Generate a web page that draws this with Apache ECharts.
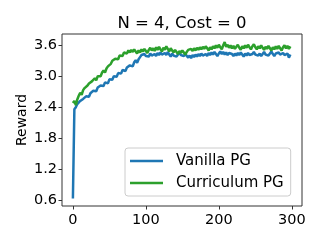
<!DOCTYPE html>
<html>
<head>
<meta charset="utf-8">
<script src="https://cdn.jsdelivr.net/npm/echarts@6/dist/echarts.min.js"></script>
<style>
html,body{margin:0;padding:0;background:#fff;}
#chart{width:324px;height:243px;}
</style>
</head>
<body>
<div id="chart"></div>
<script>
const title = "N = 4, Cost = 0";
const seriesNames = ["Vanilla PG", "Curriculum PG"];
const stepSize = 2;
const vanilla = [
0.63,2.36,2.40,2.46,2.43,2.52,2.50,2.56,2.53,2.61,
2.64,2.60,2.67,2.65,2.72,2.74,2.71,2.78,2.76,2.82,
2.85,2.81,2.88,2.90,2.86,2.94,2.97,2.93,3.00,3.03,
2.99,3.06,3.09,3.05,3.12,3.15,3.10,3.17,3.14,3.21,
3.24,3.19,3.27,3.31,3.26,3.33,3.37,3.41,3.38,3.43,
3.39,3.42,3.38,3.44,3.40,3.37,3.43,3.39,3.45,3.41,
3.46,3.42,3.39,3.45,3.41,3.47,3.42,3.38,3.44,3.40,
3.43,3.38,3.42,3.46,3.41,3.44,3.39,3.43,3.40,3.36,
3.40,3.35,3.41,3.37,3.42,3.38,3.43,3.39,3.44,3.40,
3.37,3.43,3.39,3.45,3.41,3.46,3.42,3.47,3.43,3.39,
3.44,3.48,3.43,3.47,3.42,3.46,3.41,3.45,3.48,3.43,
3.39,3.44,3.40,3.45,3.41,3.46,3.42,3.38,3.44,3.40,
3.45,3.41,3.38,3.43,3.47,3.42,3.45,3.40,3.44,3.39,
3.43,3.47,3.42,3.45,3.40,3.44,3.48,3.43,3.39,3.44,
3.41,3.46,3.42,3.40,3.45,3.41,3.38,3.44,3.36,3.42
];
const curriculum = [
2.48,2.52,2.44,2.55,2.62,2.68,2.64,2.73,2.77,2.74,
2.82,2.86,2.83,2.90,2.93,2.96,2.92,3.00,3.03,3.00,
3.07,3.11,3.07,3.15,3.19,3.16,3.24,3.30,3.27,3.34,
3.37,3.33,3.40,3.43,3.39,3.46,3.49,3.44,3.50,3.46,
3.51,3.47,3.52,3.48,3.44,3.50,3.46,3.52,3.48,3.53,
3.49,3.45,3.51,3.55,3.50,3.54,3.49,3.56,3.51,3.57,
3.52,3.48,3.55,3.51,3.58,3.53,3.48,3.54,3.50,3.46,
3.51,3.47,3.43,3.49,3.45,3.50,3.46,3.42,3.47,3.51,
3.48,3.53,3.49,3.54,3.50,3.55,3.51,3.56,3.52,3.57,
3.53,3.58,3.54,3.50,3.56,3.52,3.58,3.54,3.60,3.55,
3.61,3.56,3.52,3.60,3.66,3.57,3.61,3.55,3.60,3.54,
3.59,3.53,3.57,3.61,3.55,3.51,3.58,3.54,3.60,3.55,
3.61,3.56,3.52,3.58,3.62,3.56,3.52,3.58,3.54,3.60,
3.55,3.51,3.57,3.53,3.59,3.54,3.50,3.56,3.52,3.58,
3.53,3.59,3.54,3.50,3.56,3.60,3.54,3.59,3.53,3.58
];
const xTicks = [0, 100, 200, 300];
const yTicks = [0.6, 1.2, 1.8, 2.4, 3.0, 3.6];

const toPairs = arr => arr.map((v, i) => [i * stepSize, v]);
const font = "DejaVu Sans";
const chart = echarts.init(document.getElementById('chart'), null, {renderer: 'canvas'});
chart.setOption({
  animation: false,
  backgroundColor: '#fff',
  title: {
    text: title, left: 182, top: 15, textAlign: 'center', padding: 0,
    textStyle: {fontFamily: font, fontSize: 16.5, fontWeight: 'normal', color: '#000'}
  },
  grid: {left: 62, right: 22, top: 34, bottom: 37, show: true, borderColor: '#333', borderWidth: 1, backgroundColor: 'transparent'},
  xAxis: {
    type: 'value', min: -14.95, max: 313.95,
    axisLine: {show: false, onZero: false},
    splitLine: {show: false},
    axisTick: {show: true, inside: false, customValues: xTicks, length: 3.5, lineStyle: {color: '#333'}},
    axisLabel: {customValues: xTicks, margin: 7, fontFamily: font, fontSize: 14.5, color: '#000'}
  },
  yAxis: {
    type: 'value', min: 0.484, max: 3.818,
    name: 'Reward', nameLocation: 'middle', nameGap: 33, nameMoveOverlap: false,
    nameTextStyle: {fontFamily: font, fontSize: 14, color: '#000'},
    axisLine: {show: false, onZero: false},
    splitLine: {show: false},
    axisTick: {show: true, inside: false, customValues: yTicks, length: 3.5, lineStyle: {color: '#333'}},
    axisLabel: {customValues: yTicks, margin: 5, fontFamily: font, fontSize: 14.5, color: '#000',
      formatter: v => v.toFixed(1)}
  },
  legend: {
    orient: 'vertical', left: 125, top: 148,
    padding: [4, 7, 4, 5], itemGap: 4, itemWidth: 33, itemHeight: 2.5, icon: 'rect',
    borderColor: '#ccc', borderWidth: 1, borderRadius: 3, backgroundColor: 'rgba(255,255,255,0.8)',
    textStyle: {fontFamily: font, fontSize: 15, color: '#000', lineHeight: 18, padding: [0, 0, 0, 8]},
    data: seriesNames
  },
  series: [
    {name: seriesNames[0], type: 'line', data: toPairs(vanilla), showSymbol: false, symbol: 'none',
     lineStyle: {width: 2.5, color: '#1f77b4'}, itemStyle: {color: '#1f77b4'}},
    {name: seriesNames[1], type: 'line', data: toPairs(curriculum), showSymbol: false, symbol: 'none',
     lineStyle: {width: 2.5, color: '#2ca02c'}, itemStyle: {color: '#2ca02c'}}
  ]
});
</script>
</body>
</html>
